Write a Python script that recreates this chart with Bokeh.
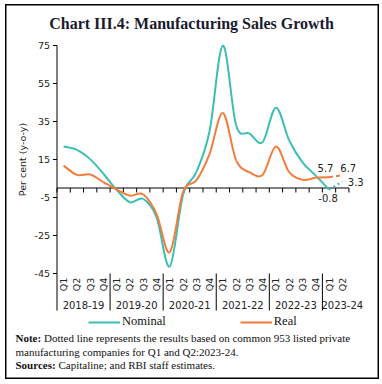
import numpy as np
from bokeh.plotting import figure
from bokeh.models import (Range1d, Label, Legend, LegendItem, ColumnDataSource)
from bokeh.core.properties import value
from bokeh.embed import file_html
from bokeh.resources import INLINE

# ---------------- data ----------------
years = ["2018-19", "2019-20", "2020-21", "2021-22", "2022-23", "2023-24"]
quarters_per_year = [4, 4, 4, 4, 4, 2]
quarter_names = ["Q1", "Q2", "Q3", "Q4"]
nominal = [21.8, 20.1, 15.2, 7.5, -1.0, -7.5, -5.7, -15.3, -41.3, -3.5, 8.3,
           30.0, 75.0, 33.0, 28.7, 24.2, 42.3, 25.0, 13.5, 6.5, -0.8, 3.3]
real = [11.8, 6.9, 7.1, 3.1, -0.8, -4.0, -3.4, -13.6, -33.8, -2.0, 4.0,
        18.0, 39.5, 14.5, 8.3, 7.0, 21.8, 8.3, 4.3, 5.4, 5.7, 6.7]
y_ticks = [-45, -25, -5, 15, 35, 55, 75]
title_text = "Chart III.4: Manufacturing Sales Growth"
y_label = "Per cent (y-o-y)"
notes = [("Note:", "Dotted line represents the results based on common 953 listed private"),
         ("", "manufacturing companies for Q1 and Q2:2023-24."),
         ("Sources:", "Capitaline; and RBI staff estimates.")]

quarter_labels = [quarter_names[k] for c in quarters_per_year for k in range(c)]
n = len(quarter_labels)
starts = np.concatenate([[0], np.cumsum(quarters_per_year)[:-1]])

# ---------------- geometry (pixels) ----------------
W, H = 374, 375
SLOT = 13.27          # px per quarter
PXU = 1.9             # px per percentage point
AX_X = 51.5           # canvas x of the y axis
AX_TOP = 41.0         # canvas y of the 75 tick
y_top = y_ticks[-1] + AX_TOP / PXU
y_bot = y_top - H / PXU
x_left = -AX_X / SLOT
x_right = x_left + W / SLOT

TEAL = "#3CBFB2"
ORANGE = "#F47B3A"
SANS = "DejaVu Sans"
SERIF = "Liberation Serif"
INK = "#222222"

p = figure(width=W, height=H, output_backend="svg", toolbar_location=None,
           x_range=Range1d(x_left, x_right), y_range=Range1d(y_bot, y_top),
           x_axis_type=None, y_axis_type=None, min_border=0)
p.margin = (4, 0, 0, 5)
p.outline_line_color = "black"
p.outline_line_width = 2
p.grid.grid_line_color = None

ymin, ymax = y_ticks[0], y_ticks[-1]

# y axis
p.segment(x0=[0], y0=[ymin], x1=[0], y1=[ymax], line_color="black", line_width=1)
p.segment(x0=np.zeros(len(y_ticks)), y0=y_ticks, x1=np.full(len(y_ticks), -4 / SLOT),
          y1=y_ticks, line_color="black", line_width=1)
p.text(x=np.zeros(len(y_ticks)), y=y_ticks, text=[str(t) for t in y_ticks],
       x_offset=-7, text_align="right", text_baseline="middle",
       text_font=value(SANS), text_font_size="9.5px", text_color=INK)
p.text(x=[0], y=[(ymin + ymax) / 2], text=[y_label], angle=np.pi / 2, x_offset=-34.5,
       text_align="center", text_baseline="middle",
       text_font=value(SANS), text_font_size="9.5px", text_color=INK)

# zero line with quarter-boundary ticks
bounds = np.arange(n + 1)
p.segment(x0=[0], y0=[0], x1=[n], y1=[0], line_color="black", line_width=1)
p.segment(x0=bounds, y0=np.zeros(n + 1), x1=bounds, y1=np.full(n + 1, -4.5 / PXU),
          line_color="black", line_width=1)

# category axis (quarters, years, separators)
xs = np.arange(n) + 0.5
p.text(x=xs, y=np.full(n, ymin), text=quarter_labels, angle=np.pi / 2, y_offset=11,
       text_align="center", text_baseline="middle",
       text_font=value(SANS), text_font_size="9.5px", text_color=INK)
year_pos = [s + (2 if c == 4 else c / 2 + 0.5) for s, c in zip(starts, quarters_per_year)]
p.text(x=year_pos, y=np.full(len(years), ymin), text=years, y_offset=31,
       text_align="center", text_baseline="middle",
       text_font=value(SANS), text_font_size="10px", text_color=INK)
p.segment(x0=starts, y0=np.full(len(starts), ymin), x1=starts,
          y1=np.full(len(starts), ymin - 37 / PXU), line_color="black", line_width=1)


def bezier_source(xv, yv):
    xv = np.asarray(xv, float)
    yv = np.asarray(yv, float)
    px = np.concatenate([[xv[0]], xv, [xv[-1]]])
    py = np.concatenate([[yv[0]], yv, [yv[-1]]])
    d = dict(x0=[], y0=[], x1=[], y1=[], cx0=[], cy0=[], cx1=[], cy1=[])
    for i in range(len(xv) - 1):
        a, b, c, e = i, i + 1, i + 2, i + 3
        d["x0"].append(px[b]); d["y0"].append(py[b])
        d["x1"].append(px[c]); d["y1"].append(py[c])
        d["cx0"].append(px[b] + (px[c] - px[a]) / 6)
        d["cy0"].append(py[b] + (py[c] - py[a]) / 6)
        d["cx1"].append(px[c] - (px[e] - px[b]) / 6)
        d["cy1"].append(py[c] - (py[e] - py[b]) / 6)
    return ColumnDataSource(d)


solid = n - 1  # last point is dotted
bz = dict(x0="x0", y0="y0", x1="x1", y1="y1", cx0="cx0", cy0="cy0", cx1="cx1", cy1="cy1")
r_nom = p.bezier(**bz, source=bezier_source(xs[:solid], nominal[:solid]),
                 line_color=TEAL, line_width=2)
r_real = p.bezier(**bz, source=bezier_source(xs[:solid], real[:solid]),
                  line_color=ORANGE, line_width=2)
p.line(xs[solid - 1:], nominal[solid - 1:], line_color=TEAL, line_width=2, line_dash="2 3")
p.line(xs[solid - 1:], real[solid - 1:], line_color=ORANGE, line_width=2, line_dash="4 3")


def dlabel(x, y, txt, dx, dy, align):
    p.add_layout(Label(x=float(x), y=float(y), text=txt, x_offset=dx, y_offset=dy,
                       text_align=align, text_baseline="middle", text_font=SANS,
                       text_font_size="10px", text_color=INK))


dlabel(xs[solid - 1], real[solid - 1], f"{real[solid-1]:.1f}", -11.5, 9, "left")
dlabel(xs[solid], real[solid], f"{real[solid]:.1f}", -2, 7, "left")
dlabel(xs[solid], nominal[solid], f"{nominal[solid]:.1f}", 5.5, 0, "left")
dlabel(xs[solid - 1], nominal[solid - 1], f"{nominal[solid-1]:.1f}", -1, -8, "center")

# legend
legend = Legend(items=[LegendItem(label="Nominal", renderers=[r_nom]),
                       LegendItem(label="Real", renderers=[r_real])],
                orientation="horizontal", location=(83, 50),
                glyph_width=32, glyph_height=12, label_height=12, spacing=74,
                label_text_font=SERIF, label_text_font_size="12.5px",
                label_text_color="#111111", label_standoff=2, padding=0, margin=0,
                border_line_color=None, background_fill_alpha=0)
p.add_layout(legend, "center")

# title
p.add_layout(Label(x=186, y=H - 19, x_units="screen", y_units="screen", text=title_text,
                   text_align="center", text_baseline="middle", text_font=SERIF,
                   text_font_size="16px", text_font_style="bold", text_color="#1a1a2e"))

# notes
bold_w = {"Note:": 28.5, "Sources:": 43.0}
for (bold, rest), yy in zip(notes, [H - 333, H - 347, H - 360]):
    x0 = 10
    if bold:
        p.add_layout(Label(x=x0, y=yy, x_units="screen", y_units="screen", text=bold,
                           text_font=SERIF, text_font_size="11px", text_font_style="bold",
                           text_baseline="middle", text_color="#111111"))
        x0 += bold_w[bold]
    p.add_layout(Label(x=x0, y=yy, x_units="screen", y_units="screen", text=rest,
                       text_font=SERIF, text_font_size="11px", text_baseline="middle",
                       text_color="#111111"))

open("out.html", "w").write(file_html(p, INLINE))
